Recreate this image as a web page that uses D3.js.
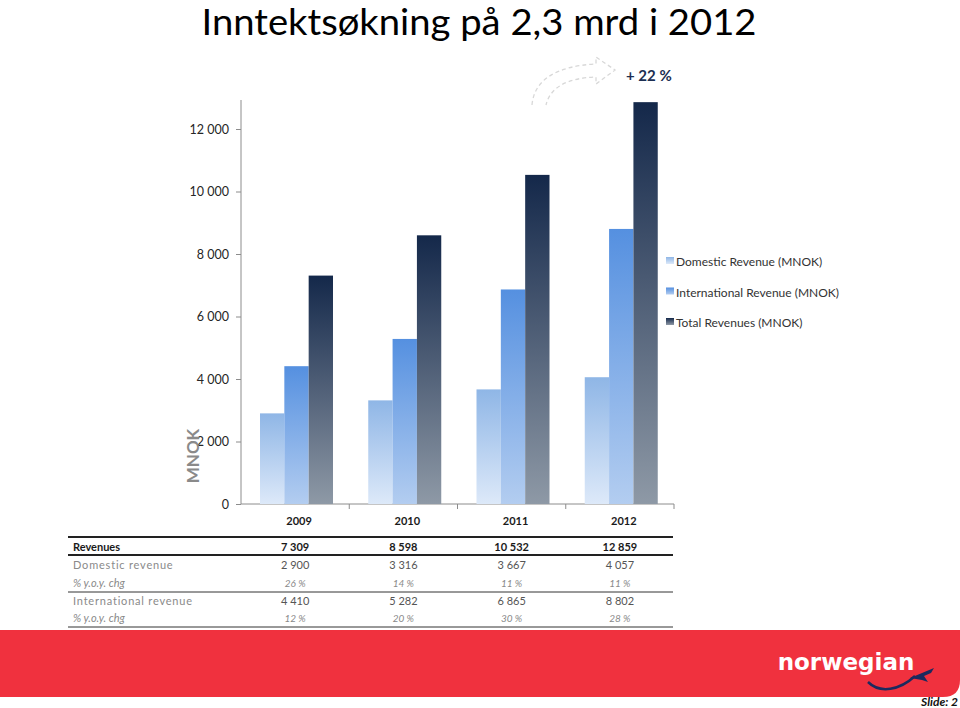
<!DOCTYPE html>
<html><head><meta charset="utf-8">
<script src="https://cdn.jsdelivr.net/npm/d3@7"></script>
<style>
body{margin:0;background:#fff;}
svg{display:block;font-family:Lato,"Open Sans",sans-serif;}
</style></head>
<body>
<svg id="c" width="960" height="708"></svg>
<script>
const years = ["2009","2010","2011","2012"];
const domestic = [2900, 3316, 3667, 4057];
const international = [4410, 5282, 6865, 8802];
const total = [7309, 8598, 10532, 12859];
const yTicks = [0,2000,4000,6000,8000,10000,12000];
const seriesNames = ["Domestic Revenue (MNOK)","International Revenue (MNOK)","Total Revenues (MNOK)"];
const tableRows = [
  {label:"Revenues", vals:["7 309","8 598","10 532","12 859"], style:"bold"},
  {label:"Domestic revenue", vals:["2 900","3 316","3 667","4 057"], style:"normal"},
  {label:"% y.o.y. chg", vals:["26 %","14 %","11 %","11 %"], style:"italic"},
  {label:"International revenue", vals:["4 410","5 282","6 865","8 802"], style:"normal"},
  {label:"% y.o.y. chg", vals:["12 %","20 %","30 %","28 %"], style:"italic"}
];
const growthLabel = "+ 22 %";
const title = "Inntektsøkning på 2,3 mrd i 2012";

const svg = d3.select("#c");
const defs = svg.append("defs");
const grads = [
  {id:"gD", top:"#8fb6e6", bot:"#dde9f9"},
  {id:"gI", top:"#5590e0", bot:"#b3cdf0"},
  {id:"gT", top:"#14284a", bot:"#8e99a6"}
];
grads.forEach(g=>{
  const lg = defs.append("linearGradient").attr("id",g.id).attr("x1",0).attr("y1",0).attr("x2",0).attr("y2",1);
  lg.append("stop").attr("offset","0%").attr("stop-color",g.top);
  lg.append("stop").attr("offset","100%").attr("stop-color",g.bot);
});

// title
svg.append("text").attr("x",479).attr("y",35).attr("text-anchor","middle")
  .attr("font-size",36).attr("textLength",555).attr("lengthAdjust","spacingAndGlyphs")
  .attr("font-family","Lato, 'Open Sans', sans-serif").attr("fill","#000").text(title);

const pLeft = 241, pRight = 674, pTop = 100, pBottom = 504;
const y = d3.scaleLinear().domain([0,12000]).range([pBottom, pBottom - 12000*0.03125]);
const x0 = d3.scaleBand().domain(years).range([pLeft,pRight]).padding(0);
const x1 = d3.scaleBand().domain([0,1,2]).range([19, 92]).padding(0);

// y axis
const yAxis = d3.axisLeft(y).tickValues(yTicks).tickSize(5).tickPadding(7)
  .tickFormat(d => d3.format(",")(d).replace(/,/g," "));
const gy = svg.append("g").attr("transform",`translate(${pLeft},0)`).call(yAxis);
gy.select(".domain").remove();
gy.append("line").attr("x1",0).attr("x2",0).attr("y1",pTop).attr("y2",pBottom).attr("stroke","#8c8c8c");
gy.selectAll(".tick line").attr("stroke","#8c8c8c");
gy.selectAll(".tick text").attr("font-size",12.5).attr("fill","#262626").attr("font-family","Lato, sans-serif");

// x axis
const gx = svg.append("g").attr("transform",`translate(0,${pBottom})`);
gx.append("line").attr("x1",pLeft).attr("x2",pRight).attr("stroke","#8c8c8c");
gx.selectAll("line.tk").data(years).enter().append("line").attr("class","tk")
  .attr("x1",d=>x0(d)+x0.bandwidth()).attr("x2",d=>x0(d)+x0.bandwidth()).attr("y1",0).attr("y2",5).attr("stroke","#8c8c8c");
gx.selectAll("text").data(years).enter().append("text")
  .attr("x",d=>x0(d)+x0.bandwidth()/2+4).attr("y",21).attr("text-anchor","middle")
  .attr("font-size",11).attr("font-weight","bold").attr("fill","#1a1a1a").text(d=>d);

// bars
const series = [domestic, international, total];
const groups = svg.append("g").selectAll("g").data(years).enter().append("g")
  .attr("transform",d=>`translate(${x0(d)},0)`);
groups.selectAll("rect").data((d,i)=>series.map((s,k)=>({k, v:s[i]}))).enter().append("rect")
  .attr("x",d=>x1(d.k)).attr("width",x1.bandwidth())
  .attr("y",d=>y(d.v)).attr("height",d=>y(0)-y(d.v))
  .attr("fill",d=>`url(#${grads[d.k].id})`);

// MNOK label
svg.append("text").attr("transform","translate(199,456) rotate(-90)").attr("text-anchor","middle")
  .attr("font-size",17).attr("font-weight","bold").attr("fill","#8a8a8a").text("MNOK");

// legend
const lgd = svg.append("g");
seriesNames.forEach((n,i)=>{
  const yy = 262 + i*30.5;
  lgd.append("rect").attr("x",666).attr("y",yy-5).attr("width",8).attr("height",7).attr("fill",`url(#${grads[i].id})`);
  lgd.append("text").attr("x",676).attr("y",yy+4).attr("font-size",12).attr("fill","#333").text(n);
});

// growth arrow
const ar = svg.append("g").attr("fill","none").attr("stroke","#d8d8d8").attr("stroke-width",1.3).attr("stroke-dasharray","4,3");
ar.append("path").attr("d","M532,105 C534,80 556,66 596,64 L596,57 L615,70 L596,84 L596,77 C566,78 550,88 546,105");
svg.append("text").attr("x",626).attr("y",81).attr("font-size",15).attr("font-weight","bold").attr("fill","#1c2f52").text(growthLabel);

// table
const tb = svg.append("g");
tb.append("line").attr("x1",68).attr("x2",673).attr("y1",537).attr("y2",537).attr("stroke","#222").attr("stroke-width",2);
tb.append("line").attr("x1",68).attr("x2",673).attr("y1",555).attr("y2",555).attr("stroke","#222").attr("stroke-width",2);
tb.append("line").attr("x1",68).attr("x2",673).attr("y1",592).attr("y2",592).attr("stroke","#333").attr("stroke-width",1);
tb.append("line").attr("x1",68).attr("x2",673).attr("y1",627).attr("y2",627).attr("stroke","#333").attr("stroke-width",1);
const rowY = [551, 569, 587, 605, 622];
tableRows.forEach((r,i)=>{
  const col = r.style==="bold" ? "#1a1a1a" : "#8a8a8a";
  tb.append("text").attr("x",73).attr("y",rowY[i]).attr("font-size",11).attr("fill",col)
    .attr("font-weight",r.style==="bold"?"bold":"normal").attr("font-style",r.style==="italic"?"italic":"normal")
    .attr("letter-spacing",r.style==="normal"?0.8:0).text(r.label);
  r.vals.forEach((v,j)=>{
    tb.append("text").attr("x",x0(years[j])+x0.bandwidth()/2).attr("y",rowY[i]).attr("text-anchor","middle")
      .attr("font-size",r.style==="italic"?10:11).attr("fill",r.style==="bold"?"#1a1a1a":(r.style==="italic"?"#8a8a8a":"#555"))
      .attr("font-weight",r.style==="bold"?"bold":"normal").attr("font-style",r.style==="italic"?"italic":"normal").text(v);
  });
});

// footer
svg.append("path").attr("d","M0,630 L960,630 L960,680 Q960,697 943,697 L0,697 Z").attr("fill","#f0313e");
svg.append("text").attr("x",846).attr("y",670).attr("text-anchor","middle").attr("font-size",23)
  .attr("font-weight","bold").attr("fill","#fff").attr("font-family","'DejaVu Sans', Verdana, sans-serif").text("norwegian");
svg.append("path").attr("d","M868,682 C880,694 900,690 915,676").attr("fill","none").attr("stroke","#1c2a5e").attr("stroke-width",2.5);
svg.append("path").attr("d","M910,678 L934,668 L931,673 L924,676 L928,682 L922,680 Z").attr("fill","#1c2a5e");
svg.append("text").attr("x",958).attr("y",706).attr("text-anchor","end").attr("font-size",12)
  .attr("font-weight","bold").attr("font-style","italic").attr("fill","#111").text("Slide: 2");
</script>
</body></html>
